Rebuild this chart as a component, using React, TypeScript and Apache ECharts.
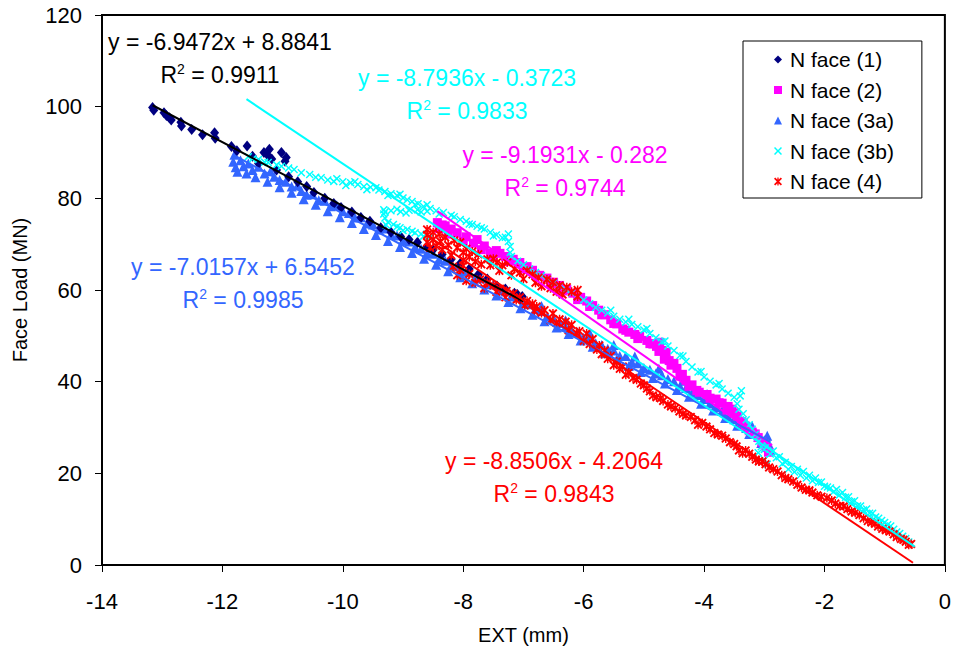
import React, { useEffect, useRef } from "react";
import * as echarts from "echarts";

const FONT = "'Liberation Sans', Arial, Helvetica, sans-serif";

const seriesNames = ["N face (1)", "N face (2)", "N face (3a)", "N face (3b)", "N face (4)"];
const seriesColors = ["#000080", "#FF00FF", "#3366FF", "#00FFFF", "#FF0000"];
const trendColors = ["#000000", "#FF00FF", "#3366FF", "#00FFFF", "#FF0000"];

const face1: number[][] = [
  [-13.16, 99.8], [-13.14, 99.2], [-12.97, 98.7], [-12.93, 98.1], [-12.88, 97.6], [-12.85, 97.1],
  [-12.69, 96.6], [-12.68, 95.8], [-12.51, 95.0], [-12.33, 93.9], [-12.13, 94.3], [-12.12, 93.1],
  [-11.85, 91.3], [-11.76, 90.4], [-11.59, 91.4], [-11.5, 89.2], [-11.31, 90.0], [-11.22, 90.7],
  [-11.24, 89.3], [-11.02, 90.0], [-10.94, 88.9], [-10.96, 88.1], [-11.18, 88.6], [-11.4, 87.6],
  [-11.1, 86.2], [-10.9, 84.7], [-10.75, 83.6], [-10.6, 82.6], [-10.48, 81.3], [-10.3, 80.0],
  [-10.15, 78.9], [-10.03, 78.0], [-9.85, 77.0], [-9.7, 75.8], [-9.55, 75.0], [-9.37, 73.6],
  [-9.2, 72.6], [-9.04, 71.7], [-8.9, 71.0], [-8.76, 70.4], [-8.6, 69.5], [-8.5, 68.8],
  [-8.35, 67.8], [-8.2, 66.7], [-8.05, 65.8], [-7.9, 64.6], [-7.75, 63.4], [-7.6, 62.4],
  [-7.44, 60.9], [-7.3, 60.2], [-7.15, 59.3], [-7.02, 58.6], [-7.06, 58.0], [-7.1, 59.0],
];

const face2: number[][] = [
  [-8.43, 74.7], [-8.35, 74.2], [-8.3, 74.0], [-8.2, 73.3], [-8.1, 72.5], [-7.95, 71.6],
  [-7.83, 70.2], [-7.77, 71.0], [-7.65, 69.6], [-7.55, 68.0], [-7.45, 68.6], [-7.39, 68.0],
  [-7.3, 67.3], [-7.17, 66.7], [-7.06, 66.0], [-6.94, 65.1], [-6.85, 64.3], [-6.73, 63.2],
  [-6.61, 62.6], [-6.5, 61.7], [-6.4, 61.0], [-6.28, 60.1], [-6.18, 59.3], [-6.05, 58.4],
  [-5.95, 57.6], [-5.85, 56.6], [-5.75, 55.6], [-5.65, 54.6], [-5.55, 53.5], [-5.45, 52.6],
  [-5.35, 51.5], [-5.25, 50.8], [-5.15, 50.3], [-5.07, 49.9], [-4.95, 49.0], [-4.85, 48.2],
  [-4.79, 47.7], [-4.74, 48.6], [-4.7, 46.8], [-4.63, 46.4], [-4.58, 44.6], [-4.5, 44.0],
  [-4.45, 42.9], [-4.36, 41.6], [-4.3, 40.3], [-4.2, 39.3], [-4.08, 37.7], [-3.95, 37.2],
  [-3.8, 36.2], [-3.7, 35.3], [-3.6, 34.6], [-3.54, 34.0], [-3.45, 32.5], [-3.38, 31.3],
  [-3.31, 30.3], [-3.2, 29.0], [-3.1, 27.8], [-3.04, 26.8], [-2.97, 25.6], [-2.93, 24.6],
  [-8.4, 73.4], [-8.25, 72.2], [-8.0, 70.6], [-7.7, 68.8], [-7.5, 67.2], [-7.25, 66.2],
  [-7.0, 64.6], [-6.8, 63.3], [-6.55, 61.4], [-6.35, 59.8], [-6.1, 57.9], [-5.9, 56.4],
  [-5.7, 54.6], [-5.5, 52.7], [-5.3, 51.2], [-5.1, 49.4], [-4.9, 48.3], [-4.75, 46.6],
  [-4.66, 44.9], [-4.55, 43.6], [-4.4, 41.2], [-4.25, 39.0], [-4.12, 38.1], [-3.9, 36.4],
  [-3.75, 35.4], [-3.62, 33.8], [-3.5, 33.2], [-3.35, 31.0], [-3.25, 29.3], [-3.15, 28.6],
  [-3.0, 26.4],
];

const face3a: number[][] = [
  [-11.8, 89.5], [-11.82, 88.0], [-11.78, 86.8], [-11.7, 88.3], [-11.65, 87.0], [-11.57, 87.6],
  [-11.5, 86.2], [-11.4, 86.9], [-11.3, 85.4], [-11.2, 85.9], [-11.14, 84.7], [-11.05, 84.0],
  [-10.95, 83.6], [-10.85, 82.6], [-10.75, 82.8], [-10.69, 81.6], [-10.6, 80.8], [-10.5, 80.9],
  [-10.4, 79.6], [-10.3, 79.5], [-10.2, 78.3], [-10.1, 78.5], [-10.0, 77.2], [-9.9, 76.8],
  [-9.8, 75.8], [-9.7, 75.9], [-9.6, 74.5], [-9.5, 74.3], [-9.4, 73.2], [-9.3, 73.4],
  [-9.2, 72.1], [-9.1, 71.9], [-9.0, 70.8], [-8.9, 70.6], [-8.8, 69.4], [-8.7, 69.0],
  [-8.6, 68.1], [-8.5, 67.9], [-8.4, 66.7], [-8.3, 66.4], [-8.2, 65.3], [-8.1, 65.2],
  [-8.0, 64.0], [-7.9, 63.9], [-7.8, 62.7], [-7.7, 62.5], [-7.6, 61.3], [-7.5, 61.2],
  [-7.4, 60.0], [-7.3, 59.7], [-7.2, 58.6], [-7.1, 58.4], [-7.0, 57.2], [-6.9, 56.9],
  [-6.8, 55.8], [-6.7, 55.4], [-6.6, 54.2], [-6.5, 53.8], [-6.4, 52.8], [-6.3, 52.0],
  [-6.2, 51.3], [-6.1, 50.8], [-6.0, 49.6], [-5.9, 49.5], [-5.8, 48.4], [-5.7, 48.0],
  [-5.6, 47.2], [-5.5, 46.8], [-5.4, 45.6], [-5.3, 45.6], [-5.2, 44.3], [-5.1, 44.0],
  [-5.0, 43.0], [-4.9, 42.6], [-4.8, 41.8], [-4.7, 41.4], [-4.6, 40.6], [-4.5, 40.1],
  [-4.4, 39.0], [-4.3, 38.6], [-4.2, 37.6], [-4.1, 37.1], [-4.0, 36.2], [-3.9, 35.3],
  [-3.8, 34.4], [-3.7, 33.6], [-3.6, 32.4], [-3.5, 31.8], [-3.4, 30.6], [-3.3, 29.9],
  [-3.2, 28.8], [-3.1, 28.0], [-3.0, 27.2], [-2.92, 26.3], [-2.9, 25.0], [-2.95, 27.2],
  [-11.75, 85.8], [-11.6, 85.4], [-11.45, 84.6], [-11.25, 83.6], [-11.05, 82.4], [-10.85, 81.2],
  [-10.65, 79.8], [-10.45, 78.6], [-10.25, 77.2], [-10.05, 75.9], [-9.85, 74.6], [-9.65, 73.3],
  [-9.45, 72.0], [-9.25, 70.7], [-9.05, 69.4], [-8.85, 68.1], [-8.65, 66.8], [-8.45, 65.5],
  [-8.25, 64.1], [-8.05, 62.8], [-7.85, 61.5], [-7.65, 60.1], [-7.45, 58.8], [-7.25, 57.4],
  [-7.05, 56.0], [-6.85, 54.6], [-6.65, 53.2], [-6.45, 51.8], [-6.25, 50.4], [-6.05, 49.0],
  [-5.85, 47.6], [-5.65, 46.2], [-5.45, 44.9], [-5.25, 43.4], [-5.05, 42.1], [-4.85, 40.8],
  [-4.65, 39.6], [-4.45, 38.2], [-4.25, 36.7], [-4.05, 35.2], [-3.85, 33.7], [-3.65, 32.1],
  [-3.45, 30.4], [-3.25, 28.6], [-3.05, 26.6],
  [-6.7, 56.5], [-6.3, 53.4], [-5.9, 50.6], [-5.5, 48.0], [-5.15, 45.5], [-4.75, 42.8],
  [-4.35, 40.2], [-3.95, 37.3], [-3.55, 34.1], [-3.2, 30.3], [-2.95, 28.2],
];

const face3b: number[][] = [
  [-11.57, 89.1], [-11.5, 88.6], [-11.4, 88.5], [-11.3, 87.9], [-11.24, 87.8], [-11.1, 87.3],
  [-11.02, 87.0], [-10.9, 86.6], [-10.81, 86.3], [-10.69, 85.6], [-10.55, 85.2], [-10.45, 84.6],
  [-10.36, 84.5], [-10.25, 84.0], [-10.15, 83.7], [-10.0, 83.6], [-9.87, 83.4], [-9.75, 83.0],
  [-9.65, 82.6], [-9.54, 82.4], [-9.4, 81.8], [-9.3, 81.5], [-9.2, 81.0], [-9.1, 80.6],
  [-9.0, 80.1], [-8.93, 79.7], [-8.85, 79.3], [-8.75, 78.8], [-8.66, 78.2], [-8.55, 77.8],
  [-8.45, 77.3], [-8.33, 76.9], [-8.2, 76.3], [-8.05, 75.4], [-7.95, 75.0], [-7.85, 74.3],
  [-7.77, 73.9], [-7.65, 73.3], [-7.55, 72.6], [-7.45, 72.0], [-7.35, 71.4], [-7.25, 70.6],
  [-7.22, 69.5], [-7.22, 68.2], [-7.2, 67.3],
  [-10.1, 84.3], [-9.95, 82.8], [-9.8, 83.6], [-9.6, 81.9], [-9.45, 82.3], [-9.25, 80.6],
  [-9.05, 80.9], [-8.8, 78.6], [-8.6, 78.6], [-8.4, 76.6], [-8.15, 76.0], [-7.9, 74.4],
  [-7.7, 73.6], [-7.5, 71.8], [-7.3, 71.5], [-7.25, 72.2],
  [-9.32, 77.5], [-9.32, 76.6], [-9.3, 75.7], [-9.25, 74.8], [-9.16, 74.3], [-9.05, 73.6],
  [-8.93, 73.2], [-8.8, 72.5], [-8.66, 71.7], [-9.2, 77.3], [-9.04, 77.1], [-8.9, 77.4],
  [-8.76, 77.5], [-8.6, 77.2],
  [-9.3, 77.0], [-9.1, 77.6], [-8.95, 76.8], [-8.7, 77.0], [-9.28, 74.2], [-9.1, 73.8],
  [-9.0, 73.0], [-8.85, 72.8], [-8.7, 72.2], [-8.55, 71.5],
  [-7.1, 66.3], [-7.0, 65.5], [-6.9, 64.6], [-6.8, 63.8], [-6.7, 63.1], [-6.6, 62.4],
  [-6.5, 61.6], [-6.4, 60.8], [-6.3, 60.1], [-6.2, 59.4], [-6.1, 58.6], [-6.0, 57.8],
  [-5.9, 57.0], [-5.8, 56.2], [-5.7, 55.6], [-5.6, 55.0], [-5.5, 54.3], [-5.4, 53.6],
  [-5.3, 53.0], [-5.2, 52.5], [-5.1, 52.0], [-5.0, 51.3], [-4.9, 50.5], [-4.8, 49.6],
  [-4.7, 48.7], [-4.6, 47.8], [-4.5, 46.8], [-4.4, 45.7], [-4.3, 44.4], [-4.2, 43.2],
  [-4.1, 42.1], [-4.0, 41.0], [-3.9, 40.1], [-3.8, 39.3], [-3.7, 38.4], [-3.6, 37.5],
  [-3.5, 36.6], [-3.45, 35.2], [-3.42, 34.0], [-3.4, 36.9], [-3.38, 38.0], [-3.35, 33.0],
  [-3.3, 31.7], [-3.25, 30.6], [-3.2, 29.6], [-3.15, 28.5], [-3.09, 27.0], [-3.05, 25.8],
  [-3.1, 24.5], [-3.0, 25.2], [-2.9, 24.2], [-2.8, 23.4], [-2.7, 22.1], [-2.6, 20.9],
  [-2.5, 20.3], [-2.4, 19.6], [-2.3, 19.0], [-2.2, 18.4], [-2.1, 18.0], [-2.05, 18.1],
  [-1.95, 17.0], [-1.85, 16.0], [-1.75, 15.3], [-1.65, 14.8], [-1.55, 13.8], [-1.45, 12.9],
  [-1.35, 12.0], [-1.25, 11.3], [-1.15, 10.5], [-1.05, 9.7], [-0.95, 8.8], [-0.85, 7.8],
  [-0.75, 6.9], [-0.65, 5.8], [-0.56, 4.6],
  [-5.55, 55.6], [-5.25, 53.6], [-4.95, 51.6], [-4.65, 48.9], [-4.35, 45.6], [-4.05, 42.2],
  [-3.75, 39.6], [-3.0, 23.0], [-2.95, 22.0],
  [-2.95, 26.0], [-2.85, 24.9], [-2.75, 23.6], [-2.65, 22.4], [-2.55, 21.5], [-2.45, 20.9],
  [-2.35, 20.4], [-2.25, 19.6], [-2.15, 19.0], [-2.0, 17.2], [-1.9, 16.8], [-1.8, 16.5],
  [-1.7, 15.8], [-1.6, 14.9], [-1.5, 14.0], [-1.4, 12.9], [-1.3, 12.2], [-1.2, 11.3],
  [-1.1, 10.2], [-1.0, 9.3], [-0.9, 8.5], [-0.8, 7.2], [-0.7, 6.3], [-0.6, 5.0],
];

const face4: number[][] = [
  [-8.6, 73.2], [-8.6, 72.0], [-8.6, 70.4], [-8.5, 72.6], [-8.5, 71.0], [-8.4, 72.2],
  [-8.38, 70.6], [-8.3, 71.5], [-8.25, 69.8], [-8.15, 70.8], [-8.05, 70.4], [-8.0, 68.2],
  [-8.0, 66.5], [-8.0, 65.3], [-7.95, 69.0], [-7.85, 68.4], [-7.75, 67.8], [-7.6, 66.7],
  [-7.5, 66.8], [-7.44, 66.0], [-7.35, 65.4], [-7.27, 66.0], [-7.15, 64.6], [-7.06, 63.8],
  [-6.94, 64.2], [-6.85, 63.4], [-6.75, 62.7], [-6.61, 62.3], [-6.51, 61.7], [-6.4, 61.0],
  [-6.28, 60.6],
  [-8.55, 69.2], [-8.45, 69.6], [-8.35, 68.8], [-8.2, 67.6], [-8.1, 69.2], [-7.9, 67.2],
  [-7.8, 66.2], [-7.7, 65.6], [-7.55, 65.4], [-7.4, 64.2], [-7.2, 63.2], [-7.0, 62.4],
  [-6.8, 61.6], [-6.7, 60.8], [-6.55, 60.4], [-6.45, 59.6], [-6.35, 59.0], [-6.2, 59.6],
  [-6.1, 58.6], [-6.1, 60.0],
  [-8.17, 65.1], [-8.05, 64.4], [-7.9, 63.5], [-7.72, 62.3], [-7.6, 61.6], [-7.5, 61.0],
  [-7.39, 60.3], [-7.28, 59.8], [-7.17, 59.2], [-7.06, 58.4], [-6.94, 57.6], [-6.85, 57.0],
  [-6.78, 56.4], [-6.65, 55.6], [-6.51, 54.9], [-6.4, 53.6], [-6.3, 53.1], [-6.2, 52.4],
  [-6.07, 51.0], [-5.95, 50.5], [-5.85, 49.3], [-5.74, 47.9], [-5.65, 46.8], [-5.55, 45.6],
  [-5.45, 44.4], [-5.35, 43.3], [-5.25, 42.0], [-5.12, 40.4], [-5.0, 39.2], [-4.9, 37.9],
  [-4.79, 36.6], [-4.68, 35.8], [-4.55, 34.6], [-4.41, 33.5], [-4.3, 32.6], [-4.15, 31.6],
  [-4.03, 31.0], [-3.9, 29.6], [-3.77, 28.5], [-3.64, 27.6], [-3.5, 26.4], [-3.42, 25.0],
  [-3.31, 25.0], [-3.2, 23.6], [-3.09, 22.6], [-2.98, 22.0], [-2.85, 20.9], [-2.71, 19.6],
  [-2.6, 18.7], [-2.45, 17.5], [-2.31, 16.4], [-2.2, 15.8], [-2.05, 14.9], [-1.88, 14.1],
  [-1.75, 12.9], [-1.62, 12.2], [-1.49, 11.4], [-1.35, 10.2], [-1.22, 9.3], [-1.11, 8.4],
  [-0.98, 7.6], [-0.85, 6.7], [-0.73, 5.7], [-0.65, 5.1], [-0.56, 4.6],
  [-8.1, 63.2], [-7.95, 62.0], [-7.8, 61.6], [-7.65, 60.4], [-7.45, 59.6], [-7.3, 58.4],
  [-7.12, 57.8], [-6.98, 56.6], [-6.82, 55.4], [-6.7, 55.0], [-6.55, 53.4], [-6.45, 52.8],
  [-6.25, 51.2], [-6.12, 50.6], [-6.0, 48.9], [-5.9, 48.2], [-5.78, 47.0], [-5.7, 46.0],
  [-5.6, 45.0], [-5.5, 43.6], [-5.4, 42.8], [-5.3, 41.5], [-5.18, 40.8], [-5.05, 39.6],
  [-4.95, 38.5], [-4.85, 37.0], [-4.72, 36.4], [-4.6, 35.0], [-4.48, 34.2], [-4.35, 33.0],
  [-4.22, 32.3], [-4.1, 30.6], [-3.96, 30.2], [-3.83, 28.8], [-3.7, 28.2], [-3.57, 26.8],
  [-3.46, 25.9], [-3.36, 24.4], [-3.25, 24.3], [-3.14, 23.0], [-3.03, 22.6], [-2.92, 21.3],
  [-2.78, 20.4], [-2.65, 19.0], [-2.52, 18.2], [-2.38, 16.9], [-2.25, 16.3], [-2.12, 15.2],
  [-1.96, 14.6], [-1.82, 13.4], [-1.68, 12.8], [-1.55, 11.7], [-1.42, 10.9], [-1.28, 9.6],
  [-1.16, 9.0], [-1.04, 7.9], [-0.92, 7.3], [-0.8, 6.1], [-0.69, 5.5], [-0.6, 4.4],
];

const seriesData = [face1, face2, face3a, face3b, face4];

// Linear trendlines as printed on the chart
const trendSlopes = [-6.9472, -9.1931, -7.0157, -8.7936, -8.8506];
const trendIntercepts = [8.8841, -0.282, 6.5452, -0.3723, -4.2064];
const trendXStart = [-13.16, -8.43, -11.82, -11.6, -8.6];
const trendXEnd = [-7.0, -2.87, -2.9, -0.5, -0.53];
const eqTexts = [
  "y = -6.9472x + 8.8841",
  "y = -9.1931x - 0.282",
  "y = -7.0157x + 6.5452",
  "y = -8.7936x - 0.3723",
  "y = -8.8506x - 4.2064",
];
const r2Texts = ["0.9911", "0.9744", "0.9985", "0.9833", "0.9843"];

const xTicks = { min: -14, max: 0, interval: 2 };
const yTicks = { min: 0, max: 120, interval: 20 };

const CROSS = "path://M0,1.3L1.3,0L5,3.7L8.7,0L10,1.3L6.3,5L10,8.7L8.7,10L5,6.3L1.3,10L0,8.7L3.7,5Z";
const STAR = "path://M0,1.5L1.5,0L5,3.5L8.5,0L10,1.5L6.5,5L10,8.5L8.5,10L5,6.5L1.5,10L0,8.5L3.5,5ZM4.2,0L5.8,0L5.8,10L4.2,10Z";
const symbols = ["diamond", "rect", "triangle", CROSS, STAR];
const symbolSizes = [[9, 11], 9, 10, 8, 9];
const drawOrder = [2, 0, 1, 3, 4];

// label placement (pixel centers of the first line)
const eqPos = [
  [220, 42],
  [565, 155],
  [243, 267],
  [467, 78],
  [554, 461],
];

export default function App() {
  const ref = useRef<HTMLDivElement>(null);
  useEffect(() => {
    if (!ref.current) return;
    const chart = echarts.init(ref.current, undefined, { renderer: "svg" });

    const scatter = drawOrder.map((i) => ({
      name: seriesNames[i],
      type: "scatter",
      data: seriesData[i],
      symbol: symbols[i],
      symbolSize: symbolSizes[i],
      itemStyle: { color: seriesColors[i], opacity: 1 },
      z: 2,
    }));

    const trends = trendSlopes.map((m, i) => ({
      name: "trend" + i,
      type: "line",
      data: [
        [trendXStart[i], m * trendXStart[i] + trendIntercepts[i]],
        [trendXEnd[i], m * trendXEnd[i] + trendIntercepts[i]],
      ],
      showSymbol: false,
      symbol: "none",
      lineStyle: { color: trendColors[i], width: 2 },
      z: 3,
      silent: true,
    }));

    const labels = eqTexts.map((t, i) => ({
      type: "text",
      x: eqPos[i][0],
      y: eqPos[i][1] - 16.5,
      z: 10,
      style: {
        text: `{a|${t}}\n{a|R}{s|2}{a| = ${r2Texts[i]}}`,
        align: "center",
        verticalAlign: "top",
        fill: trendColors[i],
        rich: {
          a: { fontSize: 23, fontFamily: FONT, lineHeight: 33, fill: trendColors[i] },
          s: { fontSize: 14, fontFamily: FONT, lineHeight: 14, verticalAlign: "top", padding: [3, 0, 0, 0], fill: trendColors[i] },
        },
      },
    }));

    chart.setOption({
      animation: false,
      backgroundColor: "#ffffff",
      textStyle: { fontFamily: FONT },
      grid: {
        left: 102,
        right: 6,
        top: 15,
        bottom: 89,
        show: true,
        borderColor: "#000",
        borderWidth: 2,
        backgroundColor: "transparent",
      },
      xAxis: {
        type: "value",
        min: xTicks.min,
        max: xTicks.max,
        interval: xTicks.interval,
        name: "EXT (mm)",
        nameLocation: "middle",
        nameGap: 60,
        nameTextStyle: { fontSize: 20, color: "#000", fontFamily: FONT },
        axisLine: { show: true, onZero: false, lineStyle: { color: "#000", width: 2 } },
        axisTick: { show: true, length: 7, lineStyle: { color: "#000", width: 1 } },
        axisLabel: { fontSize: 22, color: "#000", margin: 25, fontFamily: FONT },
        splitLine: { show: false },
      },
      yAxis: {
        type: "value",
        min: yTicks.min,
        max: yTicks.max,
        interval: yTicks.interval,
        name: "Face Load (MN)",
        nameLocation: "middle",
        nameGap: 72,
        nameTextStyle: { fontSize: 20, color: "#000", fontFamily: FONT },
        axisLine: { show: true, onZero: false, lineStyle: { color: "#000", width: 2 } },
        axisTick: { show: true, length: 7, lineStyle: { color: "#000", width: 1 } },
        axisLabel: { fontSize: 22, color: "#000", margin: 20, fontFamily: FONT },
        splitLine: { show: false },
      },
      legend: {
        data: seriesNames,
        orient: "vertical",
        left: 743,
        top: 41,
        padding: [8, 28, 6, 31],
        itemGap: 9.5,
        itemWidth: 8,
        itemHeight: 8,
        backgroundColor: "#fff",
        borderColor: "#000",
        borderWidth: 1,
        textStyle: { fontSize: 21, color: "#000", fontFamily: FONT, lineHeight: 21, padding: [0, 0, 0, 3] },
        selectedMode: false,
      },
      series: [...scatter, ...trends],
      graphic: labels,
    });
    return () => chart.dispose();
  }, []);
  return <div ref={ref} style={{ position: "fixed", left: 0, top: 0, width: 954, height: 654 }} />;
}
